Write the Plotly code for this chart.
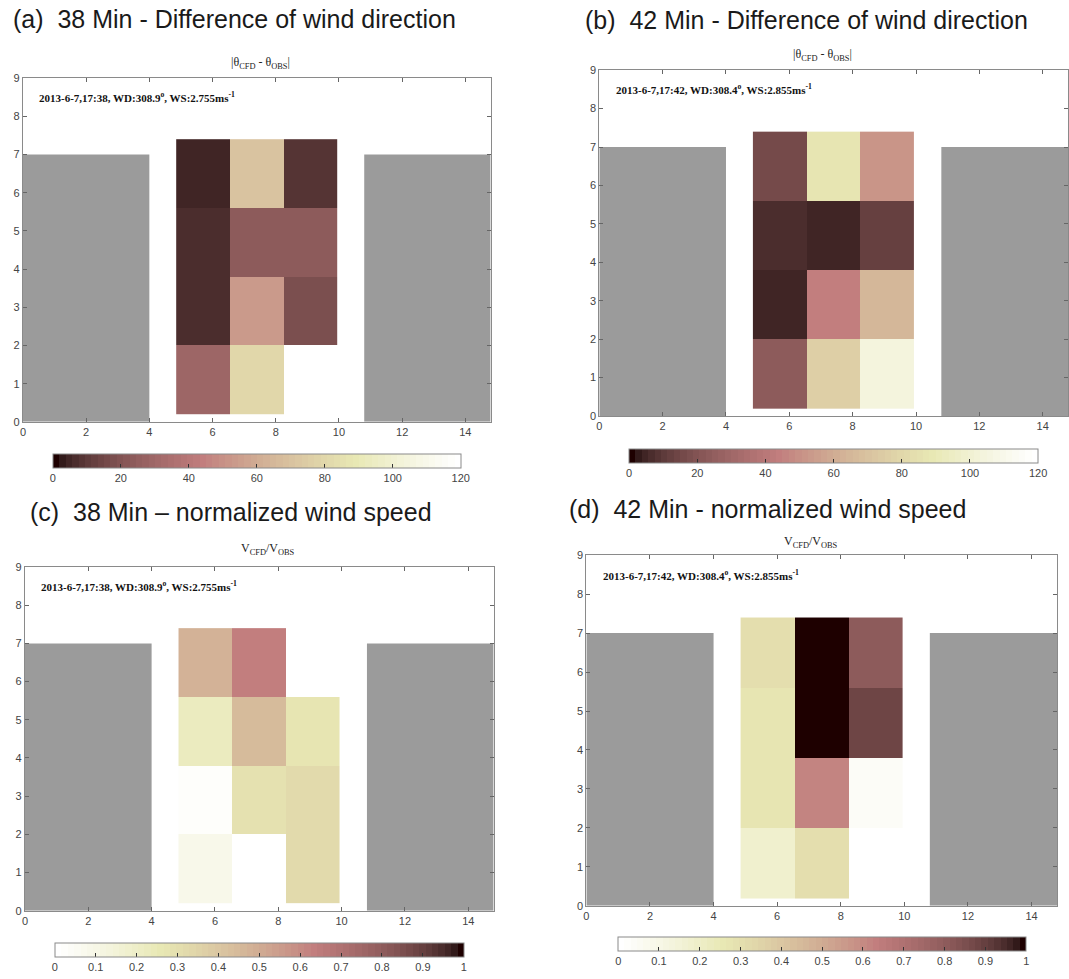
import numpy as np
import plotly.graph_objects as go

# Measurement cells between the two buildings (column / row edges, metres)
col_edges = [4.85, 6.55, 8.25, 9.95]
row_edges = [0.2, 2.0, 3.8, 5.6, 7.4]

# Buildings on both sides of the street
building_left = [0, 4]
building_right = [10.8, 15]
building_height = 7

# Cell values, rows bottom -> top, columns left -> right (None = no data)
dir_diff_38 = [
    [29, 79, None],
    [6, 53, 18],
    [6, 23, 23],
    [5, 70, 8],
]
dir_diff_42 = [
    [23, 76, 104],
    [4.5, 44, 65],
    [6, 4, 12],
    [15, 87, 51],
]
speed_ratio_38 = [
    [0.08, None, 0.32],
    [0.02, 0.29, 0.32],
    [0.22, 0.45, 0.28],
    [0.47, 0.64, None],
]
speed_ratio_42 = [
    [0.18, 0.31, None],
    [0.27, 0.62, 0.04],
    [0.27, 0.99, 0.875],
    [0.31, 0.99, 0.81],
]

dir_ticks = [0, 20, 40, 60, 80, 100, 120]
ratio_ticks = [0, 0.1, 0.2, 0.3, 0.4, 0.5, 0.6, 0.7, 0.8, 0.9, 1]
ratio_ticktext = ["0", "0.1", "0.2", "0.3", "0.4", "0.5", "0.6", "0.7", "0.8", "0.9", "1"]

panel_titles = [
    "(a)  38 Min - Difference of wind direction",
    "(b)  42 Min - Difference of wind direction",
    "(c)  38 Min \u2013 normalized wind speed",
    "(d)  42 Min - normalized wind speed",
]
sub_dir = "|\u03b8<sub>CFD</sub> - \u03b8<sub>OBS</sub>|"
sub_speed = "V<sub>CFD</sub>/V<sub>OBS</sub>"
info_38 = "<b>2013-6-7,17:38, WD:308.9<sup>o</sup>, WS:2.755ms<sup>-1</sup></b>"
info_42 = "<b>2013-6-7,17:42, WD:308.4<sup>o</sup>, WS:2.855ms<sup>-1</sup></b>"

W, H = 1069, 979


def matlab_pink(m=64):
    n1 = int(np.fix(3 / 8 * m))
    r = np.concatenate([np.arange(1, n1 + 1) / n1, np.ones(m - n1)])
    g = np.concatenate([np.zeros(n1), np.arange(1, n1 + 1) / n1, np.ones(m - 2 * n1)])
    b = np.concatenate([np.zeros(2 * n1), np.arange(1, m - 2 * n1 + 1) / (m - 2 * n1)])
    gray = np.arange(m) / (m - 1)
    hot = np.stack([r, g, b], axis=1)
    return np.sqrt((2 * gray[:, None] + hot) / 3)


def stepped_scale(cmap):
    n = len(cmap)
    scale = []
    for i, c in enumerate(cmap):
        col = "rgb(%d,%d,%d)" % tuple(np.round(c * 255).astype(int))
        scale.append([i / n, col])
        scale.append([(i + 1) / n, col])
    return scale


pink = matlab_pink(64)
scale_dir = stepped_scale(pink)
scale_speed = stepped_scale(pink[::-1])

# pixel layout of each panel: plot box, colour bar box, title / subtitle positions
panels = [
    dict(z=dir_diff_38, zmax=120, scale=scale_dir, ticks=dir_ticks, ticktext=[str(t) for t in dir_ticks],
         box=(20, 489, 73, 421), cbar=(50, 459, 454), title=(232, 13), sub=(258, 58),
         sub_text=sub_dir, info=info_38),
    dict(z=dir_diff_42, zmax=120, scale=scale_dir, ticks=dir_ticks, ticktext=[str(t) for t in dir_ticks],
         box=(598, 1068, 65, 415), cbar=(628, 1038, 448), title=(806, 14), sub=(822, 50),
         sub_text=sub_dir, info=info_42),
    dict(z=speed_ratio_38, zmax=1, scale=scale_speed, ticks=ratio_ticks, ticktext=ratio_ticktext,
         box=(22, 492, 568, 916), cbar=(52, 462, 949), title=(229, 512), sub=(266, 550),
         sub_text=sub_speed, info=info_38),
    dict(z=speed_ratio_42, zmax=1, scale=scale_speed, ticks=ratio_ticks, ticktext=ratio_ticktext,
         box=(585, 1057, 556, 911), cbar=(617, 1026, 943), title=(767, 509), sub=(810, 543),
         sub_text=sub_speed, info=info_42),
]

fig = go.Figure()
annotations = []
shapes = []
axis_font = dict(family="Liberation Sans, Arial, sans-serif", size=11, color="#444444")

for i, p in enumerate(panels, start=1):
    xa = "x" if i == 1 else "x%d" % i
    ya = "y" if i == 1 else "y%d" % i
    x0, x1, ytop, ybot = p["box"]
    cx0, cx1, ctop = p["cbar"]

    fig.add_trace(go.Heatmap(
        x=col_edges, y=row_edges, z=p["z"], zmin=0, zmax=p["zmax"],
        colorscale=p["scale"], xaxis=xa, yaxis=ya, hoverinfo="skip",
        colorbar=dict(
            orientation="h", x=(cx0 + cx1) / 2 / W, xanchor="center",
            y=1 - ctop / H, yanchor="top", len=(cx1 - cx0) / W, lenmode="fraction",
            thickness=14, thicknessmode="pixels", xpad=0, ypad=0,
            outlinecolor="#8a8a8a", outlinewidth=1,
            ticks="inside", ticklen=4, tickcolor="#333333",
            tickvals=p["ticks"], ticktext=p["ticktext"],
            tickfont=axis_font,
        ),
    ))

    axis_common = dict(
        showgrid=False, zeroline=False, showline=True, mirror="ticks",
        linecolor="#8a8a8a", linewidth=1, ticks="inside", ticklen=4,
        tickcolor="#666666", tickfont=axis_font,
    )
    fig.update_layout(**{
        ("xaxis" if i == 1 else "xaxis%d" % i): dict(
            domain=[x0 / W, x1 / W], range=[0, 14.8], anchor=ya,
            tickvals=list(range(0, 15, 2)), **axis_common),
        ("yaxis" if i == 1 else "yaxis%d" % i): dict(
            domain=[1 - ybot / H, 1 - ytop / H], range=[0, 9], anchor=xa,
            tickvals=list(range(0, 10)), **axis_common),
    })

    for bx in (building_left, building_right):
        shapes.append(dict(
            type="rect", xref=xa, yref=ya, x0=bx[0], x1=min(bx[1], 14.8),
            y0=0, y1=building_height, fillcolor="#9b9b9b", line=dict(width=0),
            layer="below",
        ))

    annotations.append(dict(
        text=panel_titles[i - 1], xref="paper", yref="paper",
        x=p["title"][0] / W, y=1 - p["title"][1] / H, xanchor="center", yanchor="middle",
        showarrow=False, font=dict(family="Liberation Sans, Arial, sans-serif", size=25, color="#1a1a1a"),
    ))
    annotations.append(dict(
        text=p["sub_text"], xref="paper", yref="paper",
        x=p["sub"][0] / W, y=1 - p["sub"][1] / H, xanchor="center", yanchor="middle",
        showarrow=False, font=dict(family="Liberation Serif, Times New Roman, serif", size=12, color="#222222"),
    ))
    annotations.append(dict(
        text=p["info"], xref=xa, yref=ya, x=0.45, y=8.5, xanchor="left", yanchor="middle",
        showarrow=False, font=dict(family="Liberation Serif, Times New Roman, serif", size=11, color="#111111"),
    ))

fig.update_layout(
    width=W, height=H, margin=dict(l=0, r=0, t=0, b=0),
    paper_bgcolor="white", plot_bgcolor="white",
    showlegend=False, annotations=annotations, shapes=shapes,
)

fig.write_html("out.html")
